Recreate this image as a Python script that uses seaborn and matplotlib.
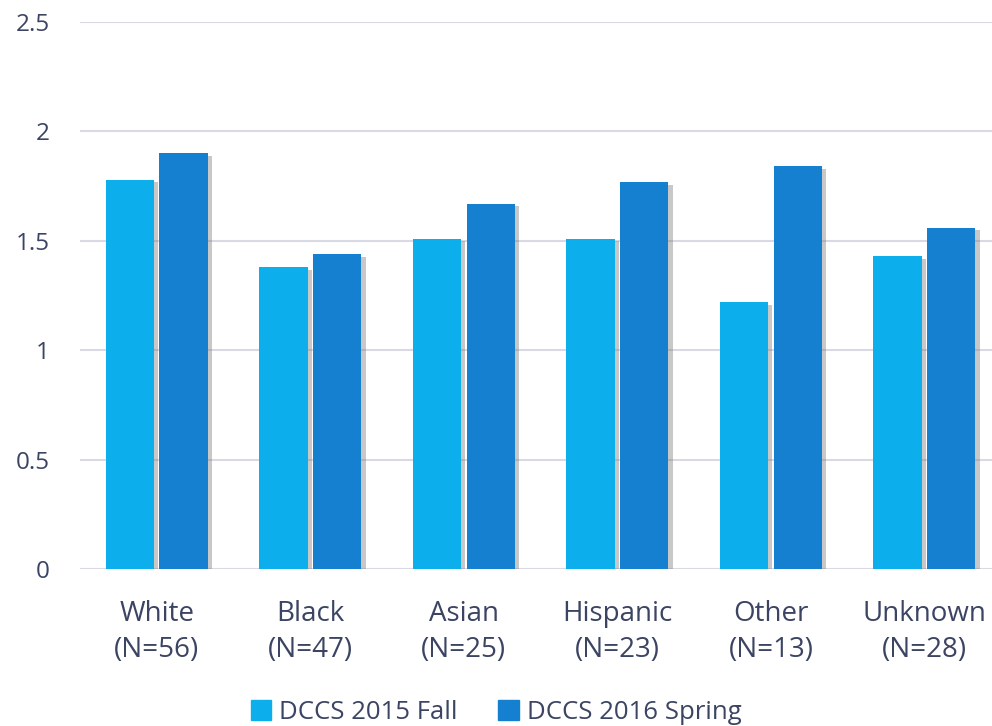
import pandas as pd
import numpy as np
import matplotlib
matplotlib.use('Agg')
import matplotlib.pyplot as plt
import matplotlib.patheffects as pe
import seaborn as sns

# data
groups = ['White\n(N=56)', 'Black\n(N=47)', 'Asian\n(N=25)', 'Hispanic\n(N=23)', 'Other\n(N=13)', 'Unknown\n(N=28)']
fall_2015 = [1.78, 1.38, 1.51, 1.51, 1.22, 1.43]
spring_2016 = [1.90, 1.44, 1.67, 1.77, 1.84, 1.56]
series = ['DCCS 2015 Fall', 'DCCS 2016 Spring']

df = pd.DataFrame({
    'group': groups * 2,
    'score': fall_2015 + spring_2016,
    'test': [series[0]] * len(groups) + [series[1]] * len(groups),
})

sns.set_style('white')
plt.rcParams['font.family'] = ['Open Sans', 'DejaVu Sans']
txt = '#3b4463'
cols = ['#0caeec', '#1580cf']

fig = plt.figure(figsize=(9.92, 7.26), dpi=100)
ax = fig.add_axes([80 / 992, 157 / 726, 912 / 992, 547 / 726])

sns.barplot(data=df, x='group', y='score', hue='test', palette=cols,
            width=0.7, gap=0.1, saturation=1, legend=False, ax=ax, zorder=3)

shadow = [pe.SimplePatchShadow(offset=(3, -2), shadow_rgbFace='#777777', alpha=0.4), pe.Normal()]
for p in ax.patches:
    p.set_path_effects(shadow)
    p.set_linewidth(0)

ax.set_ylim(0, 2.5)
ax.set_xlim(-0.5, 5.44)
ax.set_yticks([0, 0.5, 1, 1.5, 2, 2.5])
ax.set_yticklabels(['0', '0.5', '1', '1.5', '2', '2.5'])
ax.yaxis.grid(True, color='#d9d9e6', linewidth=1.5, zorder=0)
ax.set_axisbelow(True)
for s in ax.spines.values():
    s.set_visible(False)
ax.tick_params(axis='y', length=0, labelsize=17.5, labelcolor=txt, pad=22)
ax.tick_params(axis='x', length=0, labelsize=20, labelcolor=txt, pad=22)
for t in ax.get_xticklabels():
    t.set_linespacing(1.4)
ax.set_xlabel('')
ax.set_ylabel('')

handles = [matplotlib.patches.FancyBboxPatch((0, 0), 1, 1, boxstyle='round,pad=0.1', color=c) for c in cols]
fig.legend(handles, series, loc='lower center', bbox_to_anchor=(0.5, -0.03), ncol=2, frameon=False,
           fontsize=18.5, labelcolor=txt, handlelength=0.8, handleheight=0.8, handletextpad=0.3,
           columnspacing=1.6)

fig.savefig('out.png', dpi=100)
